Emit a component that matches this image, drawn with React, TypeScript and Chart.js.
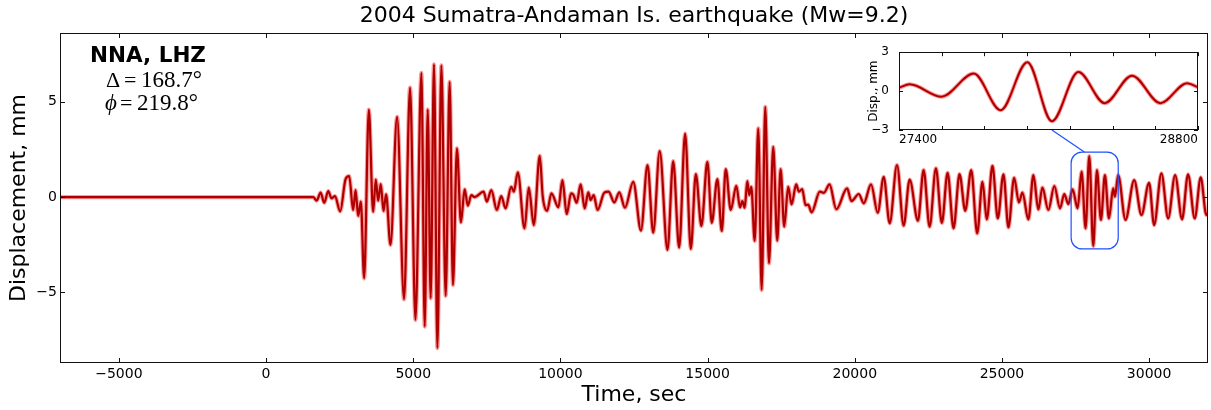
import React, { useEffect, useRef } from 'react';
import { Chart, registerables } from 'chart.js';

Chart.register(...registerables);

const titleText = '2004 Sumatra-Andaman Is. earthquake (Mw=9.2)';
const stationLabel = 'NNA, LHZ';
const distanceSymbol = 'Δ';
const distanceValue = '168.7°';
const azimuthSymbol = 'ϕ';
const azimuthValue = '219.8°';
const xTitle = 'Time, sec';
const yTitle = 'Displacement, mm';
const insetYTitle = 'Disp., mm';

const xTicks = [-5000, 0, 5000, 10000, 15000, 20000, 25000, 30000];
const yTicks = [-5, 0, 5];
const insetXTicks = [27400, 27600, 27800, 28000, 28200, 28400, 28600, 28800];
const insetYTicks = [-3, 0, 3];

const timeSec = [
  -7000, 1000, 1434, 1603, 1719, 1854, 1976, 2112, 2227, 2339, 2519, 2702, 2824, 2959, 3041, 3129, 3220,
  3332, 3492, 3637, 3729, 3807, 3898, 3990, 4078, 4227, 4451, 4688, 4892, 5075, 5278, 5390, 5492, 5593,
  5705, 5820, 5956, 6102, 6237, 6349, 6485, 6620, 6746, 6858, 6973, 7085,
  7390, 7502, 7651, 7841, 7990, 8136, 8329, 8417, 8553, 8780, 8926, 9095, 9298, 9400, 9549, 9695, 9932,
  10068, 10214, 10363, 10441, 10553, 10688, 10824, 10949, 11027, 11129, 11264, 11492, 11637, 11831, 12000,
  12193, 12475, 12736, 12959, 13153, 13373,
  13638, 13831, 14034, 14237, 14430, 14600, 14790, 14993, 15142, 15332, 15481, 15617, 15786, 15976, 16102,
  16180, 16261, 16349, 16417, 16485, 16600, 16722, 16837, 16959, 17085, 17230, 17366, 17481, 17603, 17739,
  17854, 18010, 18102, 18213, 18329, 18417, 18532, 18814, 18949, 19142, 19373,
  19739, 19888, 20136, 20305, 20553, 20780, 20983, 21186, 21434, 21661, 21864, 22146, 22339, 22542, 22756,
  22959, 23153, 23356, 23559, 23753, 23956, 24159, 24339, 24485, 24678, 24858, 25051, 25220, 25414,
  25577, 25695, 25898, 26068, 26237, 26373, 26576, 26780, 26973, 27119, 27254, 27400, 27570, 27705, 27841,
  27966, 28102, 28227, 28363, 28498, 28634, 28780, 28837, 28949, 29197, 29492, 29739, 30000, 30169, 30417,
  30646, 30883, 31119, 31322, 31549, 31753, 31943, 32000,
];

const displacementMm = [
  0, 0, 0, 0, -0.19, 0.23, -0.3, 0.31, -0.07, 0.05, -0.75, 0.94, 1.1, -0.68, 0.37, -0.99, -0.24,
  -4.26, 4.59, -0.77, 0.92, -0.19, 0.68, -0.73, 0.14, -2.51, 4.21, -5.36, 5.74, -6.44, 6.51, -6.79, 4.59, -5.31,
  6.96, -7.92, 6.91, -5.18, 6.04, -4.61, 2.55, -1.33, 0.4, -0.45, 0.1, 0.0,
  0.28, -0.24, 0.37, -0.68, 0.05, -0.59, 0.54, 0.28, 1.29, -1.64, 0.49, -1.47, 2.16, 0.02, -0.72, 0.19, -0.54,
  0.89, -0.89, 0.19, 0.12, -0.3, 0.66, -0.59, 0.25, -0.16, 0.1, -0.68, 0.23, 0.28, -0.28, 0.25,
  -0.56, 0.8, -1.76, 1.68, -1.87, 2.41,
  -2.77, 1.88, -2.65, 3.33, -2.72, 1.2, -1.52, 1.85, -1.35, 0.94, -1.78, 1.47, -0.68, 0.59, -0.54,
  -0.21, -0.56, 0.84, 0.1, 0.54, -2.3, 3.6, -4.87, 4.73, -3.47, 2.63, -2.29, 1.47, -1.55, 0.54,
  -0.38, 0.66, 0.28, 0.42, -0.42, -0.4, -0.8, 0.28, 0.22, 0.66, -0.64,
  0.45, -0.21, 0.16, -0.33, 0.66, -0.82, 1.06, -1.38, 1.68, -1.5, 0.92, -1.24, 1.41, -1.55, 1.5,
  -1.35, 1.27, -1.64, 1.2, -0.72, 1.41, -1.9, 0.8, -1.17, 1.64, -1.12, 1.19, -1.59, 1.01,
  -0.28, 0.23, -1.17, 1.15, -0.65, 0.49, -0.68, 0.58, -0.59, 0.16, -0.37, 0.4, -0.59, 1.33, -1.64,
  2.15, -2.57, 1.41, -1.2, 1.15, -1.12, 0.45, 0.02, 1.15, -1.2, 0.89, -0.94, 0.75, -1.47, 1.24,
  -1.12, 1.15, -1.17, 1.19, -1.12, 1.03, -0.94, -0.85,
];

const insetTimeSec = [27400, 27450, 27599, 27750, 27876, 28001, 28116, 28240, 28363, 28491, 28624, 28749, 28800];
const insetDispMm = [0.26, 0.52, -0.43, 1.35, -1.47, 2.22, -2.33, 1.47, -0.93, 1.19, -0.93, 0.61, 0.29];

// zoom box (data units on the main axes) and connector anchors
const zoomBoxTime = [27350, 28950];
const zoomBoxDisp = [-2.72, 2.36];
const connectorInsetTime = 28116;
const connectorMainTime = 27800;

const SANS = '"DejaVu Sans", sans-serif';
const SERIF = '"Liberation Serif", "DejaVu Serif", serif';
const MINUS = '\u2212';
const fmt = (v: number) => (v < 0 ? MINUS + Math.abs(v) : String(v));

const W = 1211;
const H = 410;
const INSET_LEFT = 850;
const INSET_TOP = 35;
const INSET_W = 355;
const INSET_H = 115;

export default function App() {
  const mainRef = useRef<HTMLCanvasElement | null>(null);
  const insetRef = useRef<HTMLCanvasElement | null>(null);

  useEffect(() => {
    if (!mainRef.current || !insetRef.current) return;

    const mainPts = timeSec.map((t, i) => ({ x: t, y: displacementMm[i] }));
    const insetPts = insetTimeSec.map((t, i) => ({ x: t, y: insetDispMm[i] }));

    const lineSets = (pts: { x: number; y: number }[], w: number) => [
      {
        data: pts,
        borderColor: '#ae0000',
        borderWidth: w,
        pointRadius: 0,
        cubicInterpolationMode: 'monotone' as const,
        fill: false,
      },
      {
        data: pts,
        borderColor: 'rgba(255,70,70,0.55)',
        borderWidth: w + 2,
        pointRadius: 0,
        cubicInterpolationMode: 'monotone' as const,
        fill: false,
      },
    ];

    const drawFrameTicks = (chart: any, xt: number[], yt: number[], len: number) => {
      const { ctx, chartArea } = chart;
      const { left, top, right, bottom } = chartArea;
      const xs = chart.scales.x;
      const ys = chart.scales.y;
      ctx.save();
      ctx.strokeStyle = '#111';
      ctx.lineWidth = 1;
      ctx.beginPath();
      for (const v of xt) {
        const px = Math.round(xs.getPixelForValue(v)) + 0.5;
        ctx.moveTo(px, bottom);
        ctx.lineTo(px, bottom - len);
        ctx.moveTo(px, top);
        ctx.lineTo(px, top + len);
      }
      for (const v of yt) {
        const py = Math.round(ys.getPixelForValue(v)) + 0.5;
        ctx.moveTo(left, py);
        ctx.lineTo(left + len, py);
        ctx.moveTo(right, py);
        ctx.lineTo(right - len, py);
      }
      ctx.stroke();
      ctx.strokeRect(Math.round(left) + 0.5, Math.round(top) + 0.5, Math.round(right - left) - 1, Math.round(bottom - top) - 1);
      ctx.restore();
    };

    const insetDecor = {
      id: 'insetDecor',
      beforeDraw(chart: any) {
        const { ctx, chartArea } = chart;
        ctx.save();
        ctx.fillStyle = '#fff';
        ctx.fillRect(chartArea.left, chartArea.top, chartArea.right - chartArea.left, chartArea.bottom - chartArea.top);
        ctx.restore();
      },
      afterDraw(chart: any) {
        drawFrameTicks(chart, insetXTicks, insetYTicks, 4);
      },
    };

    const inset = new Chart(insetRef.current, {
      type: 'line',
      data: { datasets: lineSets(insetPts, 2) as any },
      options: {
        responsive: false,
        animation: false,
        devicePixelRatio: 1,
        layout: { padding: { top: 8, right: 7, left: 0, bottom: 0 } },
        plugins: { legend: { display: false }, tooltip: { enabled: false }, title: { display: false } },
        scales: {
          x: {
            type: 'linear',
            min: 27400,
            max: 28800,
            afterBuildTicks: (s: any) => {
              s.ticks = insetXTicks.map((v) => ({ value: v }));
            },
            afterFit: (s: any) => {
              s.height = 20;
            },
            grid: { display: false, drawTicks: false },
            border: { display: false },
            ticks: {
              autoSkip: false,
              maxRotation: 0,
              align: 'inner',
              padding: 3,
              color: '#000',
              font: { family: SANS, size: 12 },
              callback: (v: any) => (v === 27400 || v === 28800 ? String(v) : ''),
            },
          },
          y: {
            type: 'linear',
            min: -3,
            max: 3,
            afterBuildTicks: (s: any) => {
              s.ticks = insetYTicks.map((v) => ({ value: v }));
            },
            afterFit: (s: any) => {
              s.width = 49;
            },
            grid: { display: false, drawTicks: false },
            border: { display: false },
            ticks: { padding: 10, color: '#000', font: { family: SANS, size: 12 }, callback: (v: any) => fmt(v) },
            title: {
              display: true,
              text: insetYTitle,
              color: '#000',
              font: { family: SANS, size: 12 },
              padding: { top: 17, bottom: 0 },
            },
          },
        },
      },
      plugins: [insetDecor],
    } as any);

    const mainDecor = {
      id: 'mainDecor',
      afterDraw(chart: any) {
        const { ctx, chartArea } = chart;
        const xs = chart.scales.x;
        const ys = chart.scales.y;
        drawFrameTicks(chart, xTicks, yTicks, 5);
        ctx.save();
        ctx.fillStyle = '#000';
        ctx.textBaseline = 'middle';
        ctx.textAlign = 'center';
        ctx.font = `22px ${SANS}`;
        ctx.fillText(titleText, (chartArea.left + chartArea.right) / 2, 16);

        ctx.textAlign = 'left';
        ctx.textBaseline = 'alphabetic';
        ctx.font = `bold 21.5px ${SANS}`;
        ctx.fillText(stationLabel, 90, 62);

        ctx.font = `22px ${SERIF}`;
        ctx.fillText(distanceSymbol, 106, 87);
        ctx.fillText('=', 124, 87);
        ctx.font = `23px ${SERIF}`;
        ctx.fillText(distanceValue, 141, 87);

        ctx.font = `italic 23px ${SERIF}`;
        ctx.fillText(azimuthSymbol, 105, 110);
        ctx.font = `22px ${SERIF}`;
        ctx.fillText('=', 120, 110);
        ctx.font = `23px ${SERIF}`;
        ctx.fillText(azimuthValue, 137, 110);

        // zoom box
        const bx0 = xs.getPixelForValue(zoomBoxTime[0]);
        const bx1 = xs.getPixelForValue(zoomBoxTime[1]);
        const by0 = ys.getPixelForValue(zoomBoxDisp[1]);
        const by1 = ys.getPixelForValue(zoomBoxDisp[0]);
        ctx.strokeStyle = '#2050ff';
        ctx.lineWidth = 1.2;
        ctx.beginPath();
        (ctx as any).roundRect(bx0, by0, bx1 - bx0, by1 - by0, 11);
        ctx.stroke();

        // connector to inset
        const ix = INSET_LEFT + inset.scales.x.getPixelForValue(connectorInsetTime);
        const iy = INSET_TOP + inset.chartArea.bottom;
        ctx.beginPath();
        ctx.moveTo(ix, iy);
        ctx.lineTo(xs.getPixelForValue(connectorMainTime), by0);
        ctx.stroke();
        ctx.restore();
      },
    };

    const main = new Chart(mainRef.current, {
      type: 'line',
      data: { datasets: lineSets(mainPts, 2.2) as any },
      options: {
        responsive: false,
        animation: false,
        devicePixelRatio: 1,
        layout: { padding: { top: 33, right: 3, left: 0, bottom: 0 } },
        plugins: { legend: { display: false }, tooltip: { enabled: false }, title: { display: false } },
        scales: {
          x: {
            type: 'linear',
            min: -7000,
            max: 32000,
            afterBuildTicks: (s: any) => {
              s.ticks = xTicks.map((v) => ({ value: v }));
            },
            afterFit: (s: any) => {
              s.height = 47;
            },
            grid: { display: false, drawTicks: false },
            border: { display: false },
            ticks: {
              autoSkip: false,
              maxRotation: 0,
              padding: 3,
              color: '#000',
              font: { family: SANS, size: 14 },
              callback: (v: any) => fmt(v),
            },
            title: {
              display: true,
              text: xTitle,
              color: '#000',
              font: { family: SANS, size: 22 },
              padding: { top: 0, bottom: 2 },
            },
          },
          y: {
            type: 'linear',
            min: -8.7,
            max: 8.6,
            afterBuildTicks: (s: any) => {
              s.ticks = yTicks.map((v) => ({ value: v }));
            },
            afterFit: (s: any) => {
              s.width = 60;
            },
            grid: { display: false, drawTicks: false },
            border: { display: false },
            ticks: { padding: 3, color: '#000', font: { family: SANS, size: 14 }, callback: (v: any) => fmt(v) },
            title: {
              display: true,
              text: yTitle,
              color: '#000',
              font: { family: SANS, size: 22 },
              padding: { top: 6, bottom: 0 },
            },
          },
        },
      },
      plugins: [mainDecor],
    } as any);

    return () => {
      main.destroy();
      inset.destroy();
    };
  }, []);

  return (
    <div style={{ position: 'fixed', left: 0, top: 0, width: W, height: H, background: '#fff' }}>
      <canvas ref={mainRef} width={W} height={H} style={{ position: 'absolute', left: 0, top: 0, width: W, height: H }} />
      <canvas
        ref={insetRef}
        width={INSET_W}
        height={INSET_H}
        style={{ position: 'absolute', left: INSET_LEFT, top: INSET_TOP, width: INSET_W, height: INSET_H }}
      />
    </div>
  );
}
